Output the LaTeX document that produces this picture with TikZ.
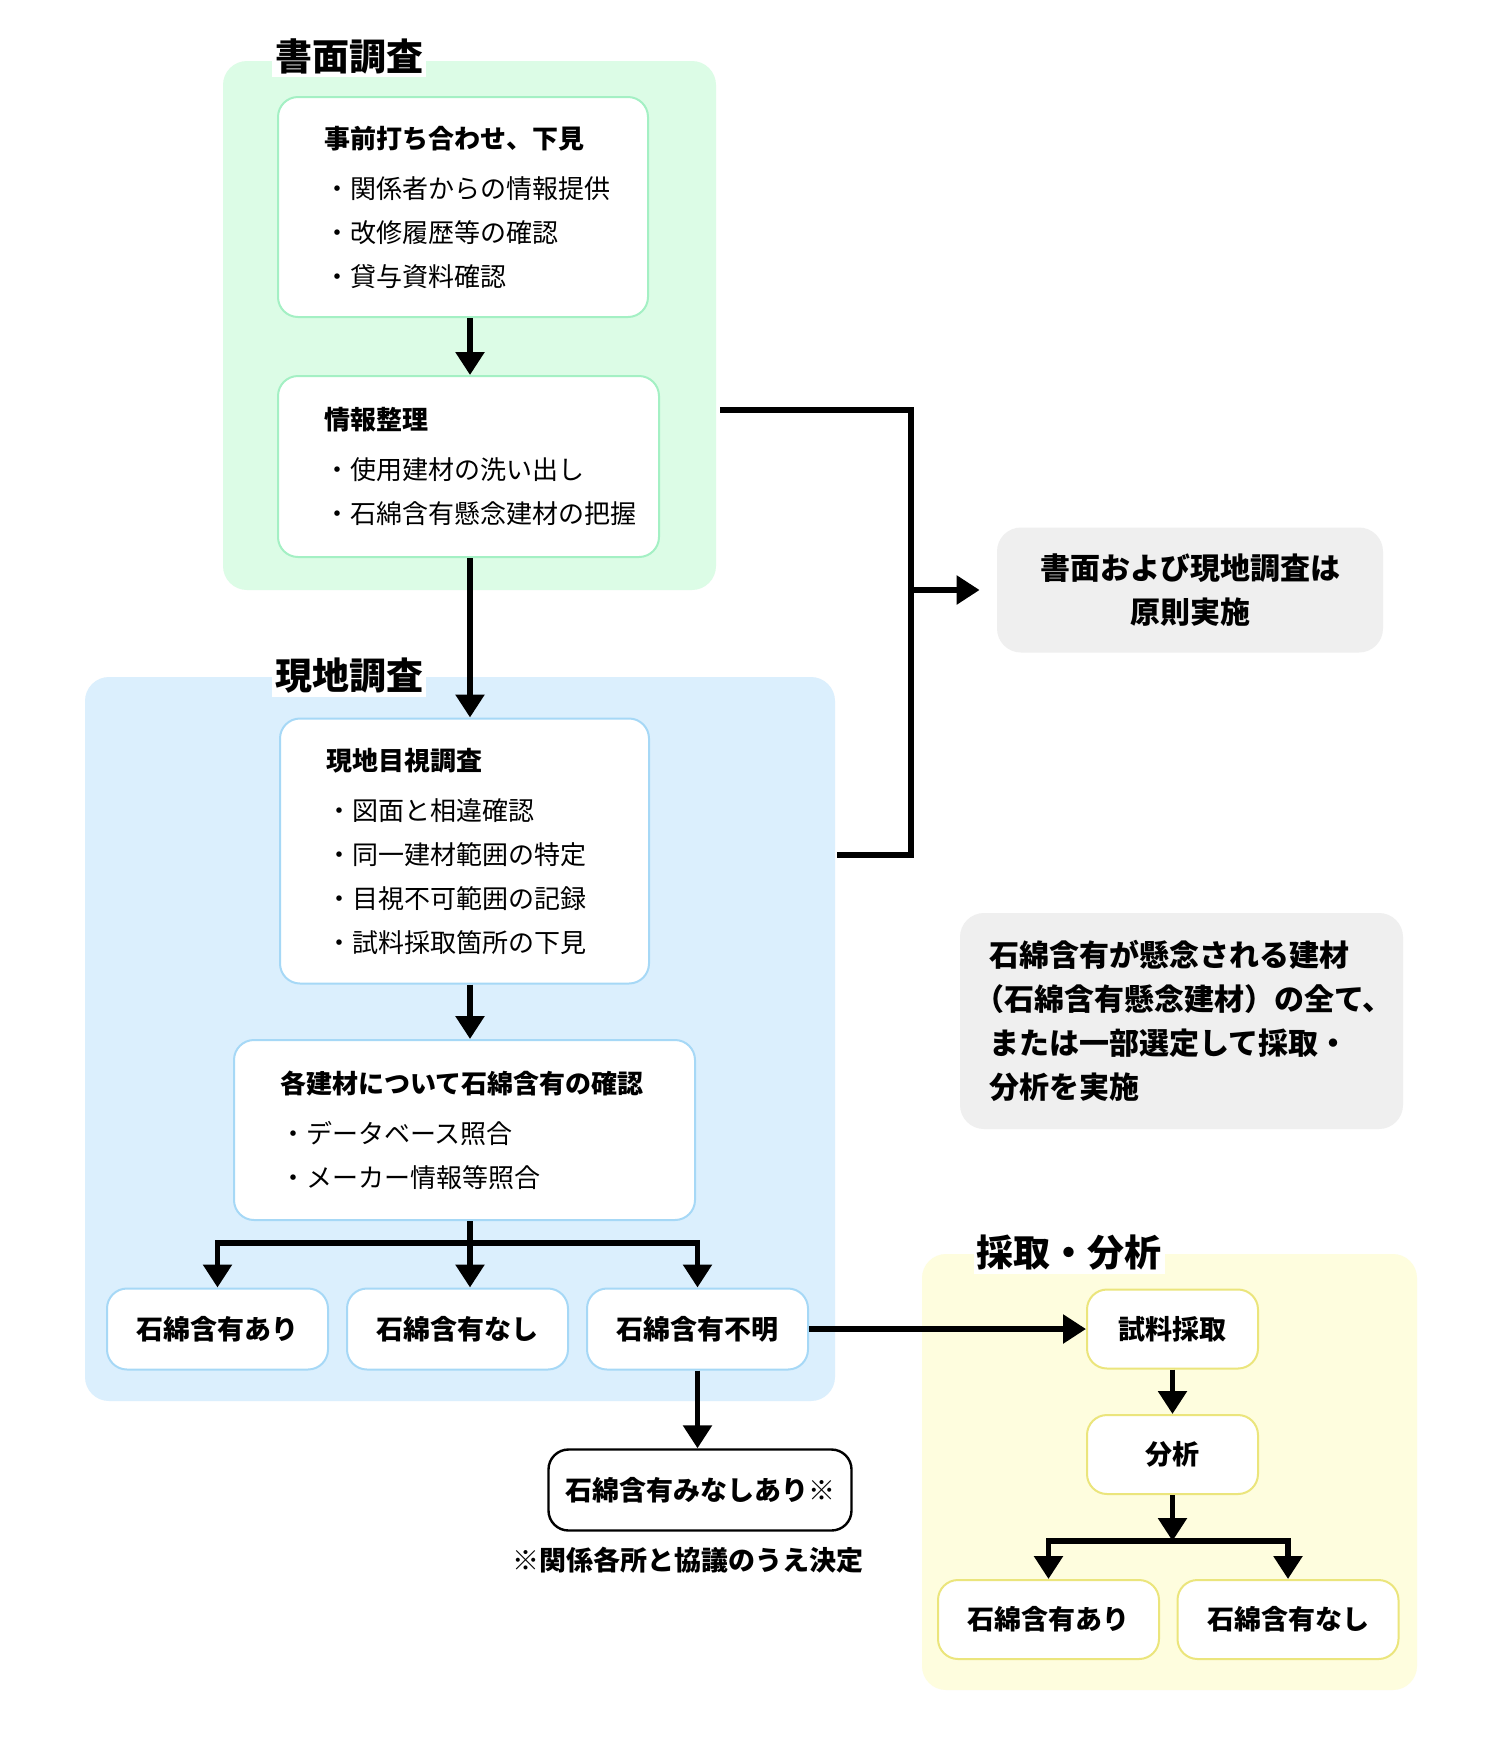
\documentclass[tikz,border=0pt]{standalone}
\usepackage{fontspec}
\setmainfont{Noto Sans CJK JP}
\usepackage{xcolor}
\usepackage{tikz}
\usetikzlibrary{arrows.meta, calc}
\definecolor{gfill}{HTML}{DCFCE6}
\definecolor{gline}{HTML}{A4F0C4}
\definecolor{bfill}{HTML}{DBEFFD}
\definecolor{bline}{HTML}{A6D8F6}
\definecolor{yfill}{HTML}{FEFDDE}
\definecolor{yline}{HTML}{EBE57C}
\definecolor{memofill}{HTML}{EFEFEF}
\tikzset{panel/.style = {rounded corners=12pt, inner sep=0pt}}
\tikzset{paneltitle/.style = {fill=white, inner sep=1.5pt, font=\fontsize{18.5}{20}\selectfont\bfseries}}
\tikzset{stepbox/.style = {fill=white, line width=1pt, rounded corners=10pt, align=left, inner xsep=23pt, font=\fontsize{13}{22}\selectfont}}
\tikzset{result/.style = {fill=white, line width=1pt, rounded corners=10pt, minimum width=110.5pt, minimum height=40.5pt, font=\fontsize{13.5}{16}\selectfont\bfseries}}
\tikzset{memo/.style = {fill=memofill, rounded corners=12pt, font=\fontsize{15}{22}\selectfont\bfseries}}
\tikzset{arr/.style = {-{Triangle[length=11.5pt, width=14pt]}, line width=2.8pt}}

\begin{document}
\begin{tikzpicture}[x=0.5pt, y=-0.5pt]
    \fill[white] (0, 0) rectangle (1500, 1746);
    \useasboundingbox (0, 0) rectangle (1500, 1746);

    \node[panel, fill=gfill, minimum width=246.5pt, minimum height=264.5pt] (gpanel) at (469.5, 325.5) {};
    \node[panel, fill=bfill, minimum width=375pt, minimum height=362pt] (bpanel) at (460, 1039) {};
    \node[panel, fill=yfill, minimum width=247.5pt, minimum height=218pt] (ypanel) at (1169.5, 1472) {};

    \node[paneltitle] (gtitle) at (349, 56) {書面調査};
    \node[paneltitle] (btitle) at (349, 676) {現地調査};
    \node[paneltitle] (ytitle) at (1069, 1253) {採取・分析};

    \coordinate (spine) at (470, 0);

    \node[stepbox, draw=gline, text width=139pt, minimum height=110pt] (prior) at (463, 207)
        {\textbf{事前打ち合わせ、下見}\\[3pt]・関係者からの情報提供\\・改修履歴等の確認\\・貸与資料確認};
    \node[stepbox, draw=gline, text width=144.5pt, minimum height=90.5pt] (sort) at (468.5, 466.5)
        {\textbf{情報整理}\\[3pt]・使用建材の洗い出し\\・石綿含有懸念建材の把握};
    \node[stepbox, draw=bline, text width=138.5pt, minimum height=132.5pt] (visual) at (464.5, 851)
        {\textbf{現地目視調査}\\[3pt]・図面と相違確認\\・同一建材範囲の特定\\・目視不可範囲の記録\\・試料採取箇所の下見};
    \node[stepbox, draw=bline, text width=184.5pt, minimum height=90pt] (check) at (464.5, 1130)
        {\textbf{各建材について石綿含有の確認}\\[3pt]・データベース照合\\・メーカー情報等照合};

    \node[result, draw=bline] (has) at (217.5, 1329) {石綿含有あり};
    \node[result, draw=bline] (none) at (457.5, 1329) {石綿含有なし};
    \node[result, draw=bline] (unknown) at (697.5, 1329) {石綿含有不明};
    \node[result, draw=black, line width=1.2pt, minimum width=151.5pt] (deemed) at (700, 1490) {石綿含有みなしあり※};
    \node[font=\fontsize{13.5}{16}\selectfont\bfseries] (deemnote) at (688, 1560) {※関係各所と協議のうえ決定};

    \node[memo, align=center, minimum width=193pt, minimum height=62.5pt] (rule) at (1190, 590)
        {書面および現地調査は\\原則実施};
    \node[memo, align=left, inner xsep=14.5pt, text width=192.5pt, minimum height=108pt] (scope) at (1181.5, 1021)
        {石綿含有が懸念される建材\\\hspace*{-0.5em}（石綿含有懸念建材）の全て、\\または一部選定して採取・\\分析を実施};

    \node[result, draw=yline, minimum width=85.5pt, minimum height=39.5pt] (sample) at (1172.5, 1329) {試料採取};
    \node[result, draw=yline, minimum width=85.5pt, minimum height=39.5pt] (analysis) at (1172.5, 1454.5) {分析};
    \node[result, draw=yline, minimum height=39.5pt] (has2) at (1048.5, 1619.5) {石綿含有あり};
    \node[result, draw=yline, minimum height=39.5pt] (none2) at (1288, 1619.5) {石綿含有なし};

    \draw[arr] (prior.south -| spine) -- (sort.north -| spine);
    \draw[arr] (sort.south -| spine) -- (visual.north -| spine);
    \draw[arr] (visual.south -| spine) -- (check.north -| spine);
    \coordinate (split) at ($(check.south -| spine)+(0, 22)$);
    \draw[arr] (check.south -| spine) -- (split) -| (has.north);
    \draw[arr] (split) -| (unknown.north);
    \draw[arr] (split) -- (split |- none.north);
    \draw[arr] (unknown.south) -- (unknown.south |- deemed.north);
    \draw[arr] (unknown.east) -- (sample.west);

    \coordinate (gout) at (720, 410);
    \coordinate (bout) at (837, 855);
    \coordinate (merge) at (911, 590);
    \draw[line width=2.8pt] (gout) -| (merge) |- (bout);
    \draw[arr, shorten >=8.5pt] (merge) -- (merge -| rule.west);

    \draw[arr] (sample.south) -- (analysis.north);
    \coordinate (fork) at ($(analysis.south)+(0, 46)$);
    \draw[arr] (analysis.south) -- (fork);
    \draw[arr] (fork) -| (has2.north);
    \draw[arr] (fork) -| (none2.north);
\end{tikzpicture}
\end{document}
